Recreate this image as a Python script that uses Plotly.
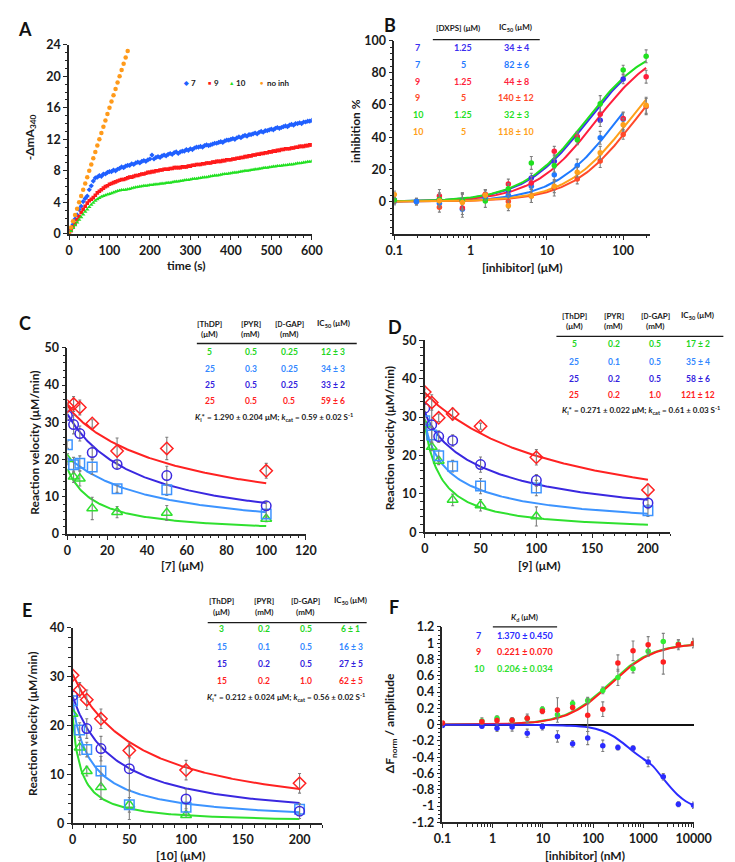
import numpy as np
import plotly.graph_objects as go

W, H = 735, 862
FONT = "Lato"
AX = "#262626"
TXT = "#1a1a1a"
ERR = "#7f7f7f"

# ---------------- Panel A : time courses ----------------
time_s = list(range(0, 601, 5))
abs_7 = [0.0, 0.6, 1.2, 1.9, 2.4, 3.1, 3.5, 4.1, 4.5, 4.8,
         5.6, 6.1, 6.7, 7.1, 7.2, 7.4, 7.3, 7.6, 7.6, 7.8,
         7.9, 7.9, 8.1, 8.0, 8.2, 8.3, 8.5, 8.4, 8.6, 8.7,
         8.7, 8.9, 8.8, 9.0, 9.1, 9.0, 9.2, 9.3, 9.2, 9.4,
         9.5, 10.0, 9.5, 9.7, 9.8, 9.7, 9.9, 10.0, 9.9, 10.1,
         10.2, 10.1, 10.3, 10.4, 10.2, 10.4, 10.5, 10.5, 10.7, 10.6,
         10.8, 10.7, 10.9, 11.0, 11.0, 11.1, 11.0, 11.2, 11.3, 11.2,
         11.3, 11.4, 11.5, 11.5, 11.6, 11.7, 11.6, 11.8, 11.9, 11.9,
         12.0, 12.1, 12.0, 12.2, 12.3, 12.2, 12.4, 12.5, 12.4, 12.6,
         12.6, 12.7, 12.8, 12.7, 12.9, 13.0, 12.9, 13.1, 13.1, 13.2,
         13.3, 13.2, 13.4, 13.5, 13.4, 13.5, 13.6, 13.7, 13.6, 13.8,
         13.9, 13.8, 14.0, 14.0, 14.1, 14.0, 14.2, 14.2, 14.3, 14.3,
         14.4]
abs_9 = [0.0, 0.4, 0.9, 1.3, 1.8, 2.2, 2.7, 3.1, 3.5, 3.9,
         4.2, 4.4, 4.6, 4.9, 5.2, 5.4, 5.6, 5.8, 6.0, 6.1,
         6.3, 6.4, 6.5, 6.6, 6.7, 6.8, 6.9, 6.9, 7.0, 7.1,
         7.2, 7.2, 7.3, 7.4, 7.4, 7.5, 7.6, 7.6, 7.7, 7.8,
         7.8, 7.9, 7.9, 8.0, 8.0, 8.1, 8.1, 8.2, 8.2, 8.2,
         8.3, 8.3, 8.4, 8.4, 8.4, 8.4, 8.5, 8.5, 8.5, 8.6,
         8.6, 8.7, 8.7, 8.8, 8.8, 8.8, 8.9, 8.9, 9.0, 9.0,
         9.0, 9.1, 9.1, 9.2, 9.2, 9.2, 9.3, 9.3, 9.4, 9.4,
         9.4, 9.5, 9.5, 9.6, 9.6, 9.7, 9.7, 9.8, 9.8, 9.9,
         9.9, 10.0, 10.0, 10.1, 10.1, 10.2, 10.2, 10.3, 10.3, 10.4,
         10.4, 10.5, 10.5, 10.6, 10.6, 10.7, 10.7, 10.8, 10.8, 10.8,
         10.9, 10.9, 11.0, 11.0, 11.1, 11.1, 11.1, 11.2, 11.2, 11.3,
         11.3]
abs_10 = [0.0, 0.35, 0.75, 1.1, 1.45, 1.8, 2.1, 2.45, 2.8, 3.1,
          3.4, 3.7, 3.95, 4.2, 4.4, 4.55, 4.7, 4.8, 4.9, 5.0,
          5.05, 5.15, 5.25, 5.35, 5.45, 5.5, 5.55, 5.55, 5.6, 5.65,
          5.7, 5.8, 5.85, 5.9, 5.95, 6.0, 6.05, 6.1, 6.1, 6.15,
          6.2, 6.2, 6.25, 6.3, 6.3, 6.35, 6.4, 6.4, 6.45, 6.5,
          6.5, 6.55, 6.6, 6.65, 6.65, 6.7, 6.75, 6.8, 6.85, 6.85,
          6.9, 6.95, 7.0, 7.0, 7.05, 7.1, 7.15, 7.2, 7.2, 7.25,
          7.3, 7.35, 7.4, 7.4, 7.45, 7.5, 7.55, 7.6, 7.6, 7.65,
          7.7, 7.75, 7.8, 7.8, 7.85, 7.9, 7.95, 8.0, 8.0, 8.05,
          8.1, 8.15, 8.2, 8.2, 8.25, 8.3, 8.35, 8.4, 8.4, 8.45,
          8.5, 8.55, 8.55, 8.6, 8.6, 8.65, 8.7, 8.7, 8.75, 8.8,
          8.8, 8.85, 8.9, 8.95, 8.95, 9.0, 9.05, 9.1, 9.15, 9.15,
          9.2]
time_noinh = list(range(0, 146, 5))
abs_noinh = [0.0, 0.8, 1.6, 2.4, 3.2, 4.0, 4.8, 5.6, 6.4, 7.2,
             8.0, 8.8, 9.6, 10.4, 11.2, 12.0, 12.8, 13.6, 14.4, 15.2,
             16.0, 16.8, 17.6, 18.4, 19.2, 20.0, 20.8, 21.6, 22.4, 23.2]

# ---------------- Panel B : inhibition ----------------
conc_B = [0.1, 0.195, 0.39, 0.78, 1.56, 3.125, 6.25, 12.5, 25, 50, 100, 200]
inh_7_125 = [1.0, 0.0, 1.5, 0.5, 3.0, 7.0, 14.6, 25.0, 40.0, 50.6, 76.2, None]
err_7_125 = [2, 2, 3, 5, 3, 3, 3, 4, 3, 4, 3, None]
inh_7_5 = [0.0, 0.0, -1.0, -4.7, 2.5, 4.0, 9.5, 16.7, 22.4, 39.6, 51.2, None]
err_7_5 = [2, 2, 3, 5, 3, 3, 4, 4, 4, 4, 4, None]
inh_9_125 = [1.0, None, 3.5, -4.0, 4.5, 11.0, 11.6, 31.3, 40.4, 54.3, 51.6, 77.6]
err_9_125 = [2, None, 4, 4, 3, 3, 4, 3, 3, 5, 4, 4]
inh_9_5 = [0.5, None, -3.5, 0.0, 4.5, 0.0, 3.5, 8.5, 14.0, 25.2, 41.7, 59.0]
err_9_5 = [2, None, 3, 5, 3, 4, 4, 5, 3, 4, 3, 5]
inh_10_125 = [1.0, None, 1.5, 0.5, 0.4, 8.0, 24.0, 22.4, 38.4, 60.8, 81.7, 90.2]
err_10_125 = [2, None, 4, 5, 4, 3, 4, 4, 3, 5, 3, 4]
inh_10_5 = [4.5, None, 0.5, -0.5, 4.0, -2.6, 3.5, 9.6, 18.3, 30.3, 47.8, 59.8]
err_10_5 = [2, None, 4, 5, 3, 3, 4, 4, 3, 4, 4, 5]
ic50_B = [34, 82, 44, 140, 32, 118]
xmax_B = [100, 100, 200, 200, 200, 200]
hill_B = 1.05
labels_B = [("7", "1.25", "34 ± 4"), ("7", "5", "82 ± 6"), ("9", "1.25", "44 ± 8"),
            ("9", "5", "140 ± 12"), ("10", "1.25", "32 ± 3"), ("10", "5", "118 ± 10")]
colors_B = ["#3b2ef0", "#1f7aff", "#ff1f3d", "#ff4a2a", "#1fe01f", "#ffa01a"]

# ---------------- Panel C/D/E : velocities ----------------
conc_C = [0, 3.125, 6.25, 12.5, 25, 50, 100]
vel_C = {
    "red": [34.3, 34.9, 34.0, 29.7, 22.3, 23.0, 17.0],
    "purple": [31.8, 29.4, 27.0, 21.9, 18.7, 15.7, 7.6],
    "blue": [24.0, 18.6, 19.0, 18.0, 12.2, 11.9, 5.4],
    "green": [20.1, 15.4, 14.9, 6.9, 5.9, 5.7, 4.1],
}
err_C = {
    "red": [1.0, 2.0, 2.0, 1.0, 3.5, 3.0, 2.0],
    "purple": [1.0, 2.5, 2.0, 1.5, 1.0, 2.5, 1.0],
    "blue": [1.0, 2.0, 2.0, 2.0, 1.0, 1.5, 1.0],
    "green": [1.5, 1.5, 2.0, 3.0, 1.5, 2.0, 0.8],
}
fit_C = {"red": (34.6, 62, 0.9), "purple": (32.2, 35, 1.0), "blue": (20.5, 42, 1.05), "green": (17.5, 14, 1.0)}

conc_D = [0, 6.25, 12.5, 25, 50, 100, 200]
vel_D = {
    "red": [36.5, 33.8, 29.8, 30.8, 27.6, 19.5, 11.0],
    "purple": [32.3, 28.0, 24.9, 23.9, 17.6, 13.5, 7.6],
    "blue": [29.0, 25.3, 19.9, 17.2, 12.0, 11.5, 5.6],
    "green": [28.0, 22.2, 18.6, 8.4, 7.0, 4.1, None],
}
err_D = {
    "red": [0.8, 2.0, 1.0, 1.5, 0.8, 2.0, 1.5],
    "purple": [1.0, 4.5, 1.5, 1.5, 2.0, 1.5, 1.5],
    "blue": [1.0, 2.0, 1.5, 1.5, 2.0, 2.0, 1.5],
    "green": [1.0, 1.0, 1.0, 1.5, 1.5, 2.5, None],
}
fit_D = {"red": (36.3, 121, 1.0), "purple": (31.5, 61, 0.85), "blue": (29.5, 26, 0.8), "green": (28.0, 15, 1.0)}

conc_E = [0, 6.25, 12.5, 25, 50, 100, 200]
vel_E = {
    "red": [30.3, 27.3, 25.3, 21.4, 14.9, 10.9, 8.2],
    "purple": [26.1, None, 19.4, 15.3, 11.2, 5.0, 2.5],
    "blue": [25.1, 19.1, 15.1, 10.7, 3.8, 3.3, 2.9],
    "green": [22.4, 15.5, 10.7, 7.4, 3.8, 1.7, None],
}
err_E = {
    "red": [1.0, 1.5, 2.0, 2.0, 1.5, 2.0, 2.0],
    "purple": [1.0, None, 2.0, 2.5, 4.5, 2.0, 1.5],
    "blue": [1.0, 1.5, 1.5, 3.0, 3.0, 1.0, 1.0],
    "green": [1.0, 1.5, 1.0, 2.5, 1.5, 0.5, None],
}
fit_E = {"red": (30.5, 60, 1.0), "purple": (26.0, 38, 1.0), "blue": (25.0, 17, 0.93), "green": (22.0, 7.5, 0.97)}

COL = {"red": "#ff2222", "purple": "#3a28e0", "blue": "#3d94ff", "green": "#2fe02f"}
SYM = {"red": "diamond-open", "purple": "circle-open", "blue": "square-open", "green": "triangle-up-open"}

tab_C = [("green", "5", "0.5", "0.25", "12 ± 3"), ("blue", "25", "0.3", "0.25", "34 ± 3"),
         ("purple", "25", "0.5", "0.25", "33 ± 2"), ("red", "25", "0.5", "0.5", "59 ± 6")]
tab_D = [("green", "5", "0.2", "0.5", "17 ± 2"), ("blue", "25", "0.1", "0.5", "35 ± 4"),
         ("purple", "25", "0.2", "0.5", "58 ± 6"), ("red", "25", "0.2", "1.0", "121 ± 12")]
tab_E = [("green", "3", "0.2", "0.5", "6 ± 1"), ("blue", "15", "0.1", "0.5", "16 ± 3"),
         ("purple", "15", "0.2", "0.5", "27 ± 5"), ("red", "15", "0.2", "1.0", "62 ± 5")]
ki_C = ("1.290 ± 0.204", "0.59 ± 0.02")
ki_D = ("0.271 ± 0.022", "0.61 ± 0.03")
ki_E = ("0.212 ± 0.024", "0.56 ± 0.02")

# ---------------- Panel F : binding ----------------
conc_F = [0.1, 0.61, 1.22, 2.44, 4.88, 9.77, 19.5, 39.1, 78.1, 156, 312, 625, 1250, 2500, 5000, 10000]
bind_9 = [0.02, 0.035, 0.05, 0.055, 0.08, 0.165, 0.18, 0.21, 0.115, 0.19, 0.757, 0.906, 0.98, 0.77, 0.98, 1.0]
err_9 = [0.02, 0.03, 0.03, 0.03, 0.05, 0.03, 0.15, 0.03, 0.2, 0.09, 0.1, 0.12, 0.1, 0.15, 0.06, 0.06]
bind_10 = [None, 0.045, 0.08, 0.055, 0.075, 0.19, 0.12, 0.26, 0.295, 0.42, 0.58, 0.685, 0.9, 1.02, 0.99, 1.0]
err_10 = [None, 0.04, 0.03, 0.03, 0.04, 0.03, 0.05, 0.04, 0.04, 0.04, 0.1, 0.05, 0.06, 0.1, 0.05, 0.05]
bind_7 = [-0.01, -0.02, -0.045, -0.03, -0.105, -0.026, -0.145, -0.235, -0.165, -0.26, -0.28, -0.29, -0.457, -0.64, -0.977, -0.99]
err_7 = [0.02, 0.02, 0.04, 0.05, 0.05, 0.04, 0.07, 0.04, 0.08, 0.07, 0.03, 0.03, 0.06, 0.04, 0.03, 0.04]
kd_F = {"9": 221, "10": 206}
fitx_7 = [0.1, 1, 10, 30, 80, 150, 250, 400, 630, 1000, 1500, 2400, 3500, 5000, 7000, 10000]
fity_7 = [0.0, 0.0, -0.004, -0.012, -0.033, -0.075, -0.14, -0.23, -0.33, -0.42, -0.5, -0.65, -0.77, -0.87, -0.94, -0.99]
tab_F = [("7", "1.370 ± 0.450", "#2b2bff"), ("9", "0.221 ± 0.070", "#ff2020"), ("10", "0.206 ± 0.034", "#2fe02f")]
COL_F = {"7": "#2b2bff", "9": "#ff2020", "10": "#33ee33"}

# tick labels
ticks_A_x = [0, 100, 200, 300, 400, 500, 600]
ticks_A_y = [0, 4, 8, 12, 16, 20, 24]
ticks_B_x = [0.1, 1, 10, 100]
ticks_B_y = [0, 20, 40, 60, 80, 100]
ticks_C_x = [0, 20, 40, 60, 80, 100, 120]
ticks_CD_y = [0, 10, 20, 30, 40, 50]
ticks_DE_x = [0, 50, 100, 150, 200]
ticks_E_y = [0, 10, 20, 30, 40]
ticks_F_x = [0.1, 1, 10, 100, 1000, 10000]
ticks_F_y = [-1.2, -1, -0.8, -0.6, -0.4, -0.2, 0, 0.2, 0.4, 0.6, 0.8, 1, 1.2]

# ================= figure =================
def pxx(x):
    return x / W


def pyy(y):
    return 1 - y / H


def lab(v):
    return "<b>%g</b>" % v


fig = go.Figure()
ann = []
shapes = []


def txt(x, y, s, size=8.5, color=TXT, angle=0, xanchor="center"):
    ann.append(dict(x=pxx(x), y=pyy(y), xref="paper", yref="paper", text="<b>%s</b>" % s, showarrow=False,
                    xanchor=xanchor, yanchor="middle", textangle=angle,
                    font=dict(family=FONT, size=size, color=color)))


def hline(x0, x1, y, w=1.3):
    shapes.append(dict(type="line", xref="paper", yref="paper", x0=pxx(x0), x1=pxx(x1),
                       y0=pyy(y), y1=pyy(y), line=dict(color=TXT, width=w)))


def axis(domain, anchor, rng, tv, **kw):
    d = dict(domain=domain, anchor=anchor, range=rng, showline=True, linecolor=AX, linewidth=1.6,
             ticks="outside", ticklen=4, tickwidth=1.4, tickcolor=AX, showgrid=False, zeroline=False,
             tickvals=tv, ticktext=[lab(v) for v in tv],
             tickfont=dict(family=FONT, size=12.5, color=TXT), fixedrange=True)
    d.update(kw)
    return d


# ---- A
fig.add_trace(go.Scatter(x=time_s, y=abs_7, mode="markers", xaxis="x", yaxis="y",
                         marker=dict(symbol="diamond", size=4, color="#2060ff")))
fig.add_trace(go.Scatter(x=time_s, y=abs_9, mode="markers", xaxis="x", yaxis="y",
                         marker=dict(symbol="square", size=3.6, color="#ff1a1a")))
fig.add_trace(go.Scatter(x=time_s, y=abs_10, mode="markers", xaxis="x", yaxis="y",
                         marker=dict(symbol="triangle-up", size=4, color="#22e022")))
fig.add_trace(go.Scatter(x=time_noinh, y=abs_noinh, mode="markers", xaxis="x", yaxis="y",
                         marker=dict(symbol="circle", size=4.5, color="#ff9a1a")))

# ---- B
series_B = [(inh_7_125, err_7_125), (inh_7_5, err_7_5), (inh_9_125, err_9_125),
            (inh_9_5, err_9_5), (inh_10_125, err_10_125), (inh_10_5, err_10_5)]
for i, (vals, errs) in enumerate(series_B):
    xs = np.logspace(-1, np.log10(xmax_B[i]), 120)
    ys = 100 * xs ** hill_B / (ic50_B[i] ** hill_B + xs ** hill_B)
    fig.add_trace(go.Scatter(x=xs, y=ys, mode="lines", xaxis="x2", yaxis="y2",
                             line=dict(color=colors_B[i], width=2)))
for i, (vals, errs) in enumerate(series_B):
    fig.add_trace(go.Scatter(x=conc_B, y=vals, mode="markers", xaxis="x2", yaxis="y2",
                             error_y=dict(type="data", array=errs, color=ERR, thickness=1.1, width=1.5),
                             marker=dict(symbol="circle", size=5.5, color=colors_B[i])))


# ---- C, D, E
def vel_panel(xa, ya, conc, vel, err, fit, xend):
    for k in ["green", "blue", "purple", "red"]:
        v0, kk, h = fit[k]
        xs = np.linspace(0, xend, 160)
        ys = v0 / (1 + (xs / kk) ** h)
        fig.add_trace(go.Scatter(x=xs, y=ys, mode="lines", xaxis=xa, yaxis=ya,
                                 line=dict(color=COL[k], width=2)))
    for k in ["green", "blue", "purple", "red"]:
        fig.add_trace(go.Scatter(x=conc, y=vel[k], mode="markers", xaxis=xa, yaxis=ya,
                                 error_y=dict(type="data", array=err[k], color=ERR, thickness=1.1, width=1.5),
                                 marker=dict(symbol=SYM[k], size=9.5, color=COL[k], line=dict(width=1.5, color=COL[k]))))


vel_panel("x3", "y3", conc_C, vel_C, err_C, fit_C, 100)
vel_panel("x4", "y4", conc_D, vel_D, err_D, fit_D, 200)
vel_panel("x5", "y5", conc_E, vel_E, err_E, fit_E, 200)

# ---- F
xsF = np.logspace(-1, 4, 200)
for key in ["10", "9"]:
    fig.add_trace(go.Scatter(x=xsF, y=xsF / (kd_F[key] + xsF), mode="lines", xaxis="x6", yaxis="y6",
                             line=dict(color=COL_F[key], width=2)))
fig.add_trace(go.Scatter(x=fitx_7, y=fity_7, mode="lines", line_shape="spline", xaxis="x6", yaxis="y6",
                         line=dict(color=COL_F["7"], width=2)))
for key, vals, errs in [("7", bind_7, err_7), ("10", bind_10, err_10), ("9", bind_9, err_9)]:
    fig.add_trace(go.Scatter(x=conc_F, y=vals, mode="markers", xaxis="x6", yaxis="y6",
                             error_y=dict(type="data", array=errs, color=ERR, thickness=1.1, width=1.5),
                             marker=dict(symbol="circle", size=5.5, color=COL_F[key])))

# ---- axes
log_minor_B = [m * 10 ** e for e in range(-1, 3) for m in range(2, 10) if m * 10 ** e <= 224]
log_minor_F = [m * 10 ** e for e in range(-1, 4) for m in range(2, 10)]


def mn(**kw):
    d = dict(ticks="outside", ticklen=2.5, tickcolor=AX, tickwidth=1)
    d.update(kw)
    return d


layout_axes = dict(
    xaxis=axis([54 / W, 306 / W], "y", [0, 600], ticks_A_x, minor=mn(dtick=20)),
    yaxis=axis([pyy(221.7), pyy(29.3)], "x", [0, 24], ticks_A_y, minor=mn(dtick=1)),
    xaxis2=axis([391.7 / W, 656.7 / W], "y2", [-1, 2.346], ticks_B_x, type="log",
                minor=mn(tickvals=log_minor_B)),
    yaxis2=axis([pyy(221.7), pyy(25)], "x2", [-20, 100], ticks_B_y, minor=mn(dtick=4)),
    xaxis3=axis([52.3 / W, 300 / W], "y3", [0, 120], ticks_C_x, minor=mn(dtick=4)),
    yaxis3=axis([pyy(527.3), pyy(337.7)], "x3", [0, 50], ticks_CD_y, minor=mn(dtick=2)),
    xaxis4=axis([423.3 / W, 678.2 / W], "y4", [0, 220], ticks_DE_x, minor=mn(dtick=10)),
    yaxis4=axis([pyy(525.3), pyy(330)], "x4", [0, 50], ticks_CD_y, minor=mn(dtick=2)),
    xaxis5=axis([57.7 / W, 316.9 / W], "y5", [0, 220], ticks_DE_x, minor=mn(dtick=10)),
    yaxis5=axis([pyy(821.7), pyy(622.7)], "x5", [0, 40], ticks_E_y, minor=mn(dtick=2)),
    xaxis6=axis([441.7 / W, 702.3 / W], "y6", [-1, 4], ticks_F_x, type="log",
                minor=mn(tickvals=log_minor_F)),
    yaxis6=axis([pyy(820.7), pyy(621.7)], "x6", [-1.2, 1.2], ticks_F_y,
                zeroline=True, zerolinecolor="#111111", zerolinewidth=2, minor=mn(dtick=0.05)),
)

# ---- panel letters
for lt, x, y in [("A", 8.5, 13.5), ("B", 387.5, 9), ("C", 8.5, 312.5), ("D", 392, 316), ("E", 10, 605), ("F", 391, 601)]:
    txt(x, y, lt, size=18, color="#111111")

# ---- axis titles
TS = 12
txt(14, 123, "-ΔmA<sub>340</sub>", size=TS, angle=-90)
txt(175, 254, "time (s)", size=TS)
txt(352, 117, "inhibition %", size=TS, angle=-90)
txt(525, 256, "[inhibitor] (μM)", size=TS)
txt(18, 434, "Reaction velocity (μM/min)", size=TS, angle=-90)
txt(172, 559, "[7] (μM)", size=TS)
txt(387, 430, "Reaction velocity (μM/min)", size=TS, angle=-90)
txt(542, 559, "[9] (μM)", size=TS)
txt(16, 720, "Reaction velocity (μM/min)", size=TS, angle=-90)
txt(170, 854, "[10] (μM)", size=TS)
txt(388, 720, "ΔF<sub>norm</sub> / amplitude", size=TS, angle=-90)
txt(590, 854, "[inhibitor] (nM)", size=TS)

# ---- A legend
for sym, col, xm, lt, xt in [("◆", "#2060ff", 175.7, "7", 179), ("■", "#ff1a1a", 200, "9", 202.5),
                             ("▲", "#22e022", 222.7, "10", 225.5), ("●", "#ff9a1a", 254, "no inh", 257)]:
    txt(xm, 68.3, sym, size=5.5, color=col)
    txt(xt, 68.3, lt, size=8, xanchor="left")

# ---- B table
txt(458, 12, "[DXPS] (μM)", size=8)
txt(518, 12, "IC<sub>50</sub> (μM)", size=8)
hline(431.7, 542.7, 24)
for i, (c, d, ic) in enumerate(labels_B):
    y = [32.3, 49.3, 66.7, 83.3, 100.7, 118][i]
    txt(416, y, c, size=9, color=colors_B[i])
    txt(463.3, y, d, size=9, color=colors_B[i])
    txt(518.3, y, ic, size=9, color=colors_B[i])

TABCOL = {"green": "#22d622", "blue": "#3388ff", "purple": "#3322dd", "red": "#ff2222"}
DGAP = "[<span style='font-size:6.5px'>D</span>-GAP]"


def vel_table(cols, yh1, yh2, yline, xl0, xl1, rows_y, yki, xki, rows, ki):
    txt(cols[0], yh1, "[ThDP]", size=8)
    txt(cols[0], yh2, "(μM)", size=8)
    txt(cols[1], yh1, "[PYR]", size=8)
    txt(cols[1], yh2, "(mM)", size=8)
    txt(cols[2], yh1, DGAP, size=8)
    txt(cols[2], yh2, "(mM)", size=8)
    txt(cols[3], yh1, "IC<sub>50</sub> (μM)", size=8)
    hline(xl0, xl1, yline)
    for (k, a, b, c, d), y in zip(rows, rows_y):
        for xx, s in zip(cols, (a, b, c, d)):
            txt(xx, y, s, size=8.5, color=TABCOL[k])
    txt(xki, yki, "<i>K</i><sub>i</sub>* = %s μM; <i>k</i><sub>cat</sub> = %s S<sup>-1</sup>" % ki, size=8)


vel_table([200, 242.7, 282.7, 328.3], 313.3, 323.3, 333.3, 186.7, 352.7,
          [342.3, 359, 375.7, 392.3], 408.3, 266.7, tab_C, ki_C)
vel_table([578.3, 619.3, 662.7, 706.7], 305, 315, 326, 560, 733.3,
          [333.3, 351.7, 369, 386], 401, 647.3, tab_D, ki_D)
vel_table([212.3, 256.7, 300, 346.7], 595, 606.7, 617.3, 198, 363,
          [624.3, 642.3, 659.3, 676.7], 693.3, 279.5, tab_E, ki_E)

# ---- F table
txt(526.7, 612.3, "<i>K</i><sub>d</sub> (μM)", size=8)
hline(494, 560.7, 621.7)
for (c, v, col), y in zip(tab_F, [630, 646.7, 664]):
    txt(479.3, y, c, size=9, color=col)
    txt(527.3, y, v, size=9, color=col)

fig.update_layout(width=W, height=H, margin=dict(l=0, r=0, t=0, b=0), showlegend=False,
                  plot_bgcolor="white", paper_bgcolor="white",
                  font=dict(family=FONT, size=11, color=TXT),
                  annotations=ann, shapes=shapes, **layout_axes)
fig.write_html("out.html")
